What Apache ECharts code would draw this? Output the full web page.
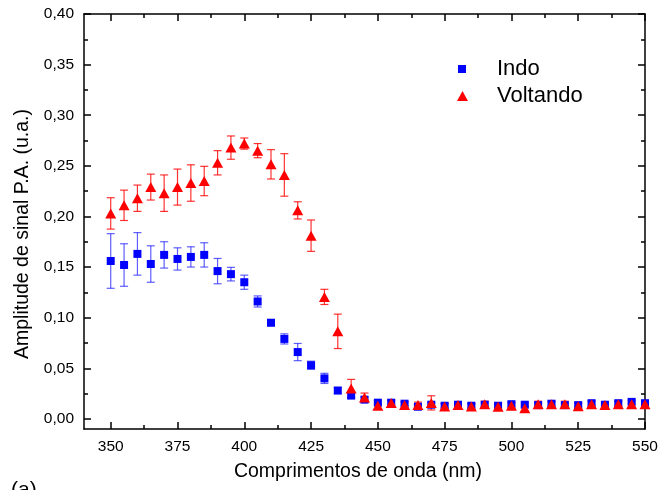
<!DOCTYPE html>
<html>
<head>
<meta charset="utf-8">
<script src="https://cdn.jsdelivr.net/npm/echarts@6/dist/echarts.min.js"></script>
<style>
  html, body { margin: 0; padding: 0; background: #fff; }
  #chart { width: 662px; height: 490px; }
</style>
</head>
<body>
<div id="chart"></div>
<script>
// comprimentos de onda (nm)
var wavelengths = [350, 355, 360, 365, 370, 375, 380, 385, 390, 395, 400, 405, 410, 415, 420, 425, 430, 435, 440, 445,
    450, 455, 460, 465, 470, 475, 480, 485, 490, 495, 500, 505, 510, 515, 520, 525, 530, 535, 540, 545, 550];
// Indo
var indoValues = [0.156, 0.152, 0.163, 0.153, 0.162, 0.158, 0.160, 0.162, 0.146, 0.143, 0.135, 0.116, 0.095, 0.079, 0.066, 0.053, 0.040, 0.028, 0.023, 0.019,
    0.016, 0.016, 0.015, 0.012, 0.014, 0.013, 0.014, 0.013, 0.014, 0.013, 0.0145, 0.014, 0.0136, 0.015, 0.0136, 0.0136, 0.0155, 0.014, 0.0155, 0.0168, 0.0155];
var indoErrors = [0.027, 0.021, 0.021, 0.018, 0.013, 0.011, 0.010, 0.012, 0.0125, 0.0067, 0.007, 0.0055, 0.003, 0.005, 0.0085, 0.004, 0.005, 0.003, 0.0025, 0.0025,
    0.002, 0.002, 0.002, 0.002, 0.002, 0.002, 0.002, 0.002, 0.002, 0.002, 0.002, 0.002, 0.002, 0.002, 0.002, 0.002, 0.002, 0.002, 0.002, 0.002, 0.002];
// Voltando
var voltandoValues = [0.203, 0.211, 0.218, 0.229, 0.223, 0.229, 0.233, 0.235, 0.253, 0.268, 0.272, 0.265, 0.2515, 0.241, 0.206, 0.181, 0.1205, 0.0865, 0.030, 0.021,
    0.0129, 0.0158, 0.0136, 0.0136, 0.0158, 0.0122, 0.0136, 0.0122, 0.0145, 0.012, 0.0129, 0.0106, 0.0145, 0.0145, 0.0145, 0.0125, 0.0145, 0.0136, 0.0145, 0.0145, 0.0145];
var voltandoErrors = [0.0155, 0.015, 0.013, 0.0128, 0.018, 0.0178, 0.018, 0.0145, 0.012, 0.0115, 0.0055, 0.007, 0.0145, 0.021, 0.0085, 0.0155, 0.0075, 0.017, 0.009, 0.0045,
    0.003, 0.003, 0.003, 0.003, 0.007, 0.003, 0.003, 0.003, 0.003, 0.003, 0.003, 0.003, 0.003, 0.003, 0.003, 0.003, 0.003, 0.003, 0.003, 0.003, 0.003];
// ticks
var xTicks = [350, 375, 400, 425, 450, 475, 500, 525, 550];
var xMinorTicks = [362.5, 387.5, 412.5, 437.5, 462.5, 487.5, 512.5, 537.5];
var yTicks = [0, 0.05, 0.10, 0.15, 0.20, 0.25, 0.30, 0.35, 0.40];
var yMinorTicks = [0.025, 0.075, 0.125, 0.175, 0.225, 0.275, 0.325, 0.375];

var FONT = 'Liberation Sans, Arial, sans-serif';

var indoData = [], indoErr = [], voltandoData = [], voltandoErr = [];
wavelengths.forEach(function(w, i) {
    indoData.push([w, indoValues[i]]);
    indoErr.push([w, indoValues[i] - indoErrors[i], indoValues[i] + indoErrors[i]]);
    voltandoData.push([w, voltandoValues[i]]);
    voltandoErr.push([w, voltandoValues[i] - voltandoErrors[i], voltandoValues[i] + voltandoErrors[i]]);
});

function errorBars(color) {
    return function(params, api) {
        var x = api.value(0);
        var top = api.coord([x, api.value(2)]);
        var bot = api.coord([x, api.value(1)]);
        var w = 4;
        var style = { stroke: color, lineWidth: 1.2 };
        return {
            type: 'group',
            children: [
                { type: 'line', shape: { x1: top[0], y1: top[1], x2: bot[0], y2: bot[1] }, style: style },
                { type: 'line', shape: { x1: top[0] - w, y1: top[1], x2: top[0] + w, y2: top[1] }, style: style },
                { type: 'line', shape: { x1: bot[0] - w, y1: bot[1], x2: bot[0] + w, y2: bot[1] }, style: style }
            ]
        };
    };
}

function xAxisDef(position, major, showLine) {
    return {
        type: 'value',
        min: 340,
        max: 550,
        position: position,
        axisLine: { show: showLine, onZero: false, lineStyle: { color: '#000', width: 1.5 } },
        axisTick: {
            show: true,
            inside: true,
            length: major ? 7 : 4,
            customValues: major ? xTicks : xMinorTicks,
            lineStyle: { color: '#000', width: 1.5 }
        },
        axisLabel: {
            show: major && position === 'bottom',
            customValues: xTicks,
            color: '#000',
            fontSize: 15.5,
            fontFamily: FONT,
            margin: 10
        },
        splitLine: { show: false }
    };
}

function yAxisDef(position, major, showLine) {
    return {
        type: 'value',
        min: -0.01,
        max: 0.40,
        position: position,
        axisLine: { show: showLine, onZero: false, lineStyle: { color: '#000', width: 1.5 } },
        axisTick: {
            show: true,
            inside: true,
            length: major ? 7 : 4,
            customValues: major ? yTicks : yMinorTicks,
            lineStyle: { color: '#000', width: 1.5 }
        },
        axisLabel: {
            show: major && position === 'left',
            customValues: yTicks,
            color: '#000',
            fontSize: 15.5,
            fontFamily: FONT,
            margin: 10,
            formatter: function(v) {
                return v.toFixed(2).replace('.', ',');
            }
        },
        splitLine: { show: false }
    };
}

var myEchart = echarts.init(document.getElementById('chart'), null, { renderer: 'canvas' });

var option = {
    backgroundColor: '#fff',
    animation: false,
    grid: { left: 84, right: 17, top: 14, bottom: 61 },
    legend: [{
        data: ['Indo'],
        orient: 'vertical',
        left: 453,
        top: 52,
        itemWidth: 8,
        itemHeight: 8,
        selectedMode: false,
        textStyle: { fontSize: 22, fontFamily: FONT, color: '#000', lineHeight: 24, padding: [0, 0, 0, 26] }
    }, {
        data: ['Voltando'],
        orient: 'vertical',
        left: 452,
        top: 79,
        itemWidth: 11,
        itemHeight: 10,
        selectedMode: false,
        textStyle: { fontSize: 22, fontFamily: FONT, color: '#000', lineHeight: 24, padding: [0, 0, 0, 24] }
    }],
    xAxis: [
        xAxisDef('bottom', true, true),
        xAxisDef('bottom', false, false),
        xAxisDef('top', true, true),
        xAxisDef('top', false, false)
    ],
    yAxis: [
        yAxisDef('left', true, true),
        yAxisDef('left', false, false),
        yAxisDef('right', true, true),
        yAxisDef('right', false, false)
    ],
    graphic: [{
        type: 'text',
        x: 23,
        y: 234,
        rotation: Math.PI / 2,
        style: {
            text: 'Amplitude de sinal P.A. (u.a.)',
            fontSize: 19.5,
            fontFamily: FONT,
            fill: '#000',
            align: 'center',
            verticalAlign: 'middle'
        }
    }, {
        type: 'text',
        x: 358,
        y: 472,
        style: {
            text: 'Comprimentos de onda (nm)',
            fontSize: 19.5,
            fontFamily: FONT,
            fill: '#000',
            align: 'center',
            verticalAlign: 'middle'
        }
    }, {
        type: 'text',
        x: 11,
        y: 480,
        style: {
            text: '(a)',
            fontSize: 21,
            fontFamily: FONT,
            fill: '#000',
            align: 'left',
            verticalAlign: 'top'
        }
    }],
    series: [{
        name: 'Indo erro',
        type: 'custom',
        renderItem: errorBars('rgba(40, 40, 255, 0.75)'),
        encode: { x: 0, y: [1, 2] },
        data: indoErr,
        silent: true
    }, {
        name: 'Indo',
        type: 'scatter',
        symbol: 'rect',
        symbolSize: 8,
        data: indoData,
        itemStyle: { color: '#0000ff', opacity: 1 },
        silent: true
    }, {
        name: 'Voltando erro',
        type: 'custom',
        renderItem: errorBars('rgba(255, 0, 0, 0.8)'),
        encode: { x: 0, y: [1, 2] },
        data: voltandoErr,
        silent: true
    }, {
        name: 'Voltando',
        type: 'scatter',
        symbol: 'triangle',
        symbolSize: [11, 10],
        data: voltandoData,
        itemStyle: { color: '#ff0000', opacity: 1 },
        silent: true
    }]
};
myEchart.setOption(option);
</script>
</body>
</html>
